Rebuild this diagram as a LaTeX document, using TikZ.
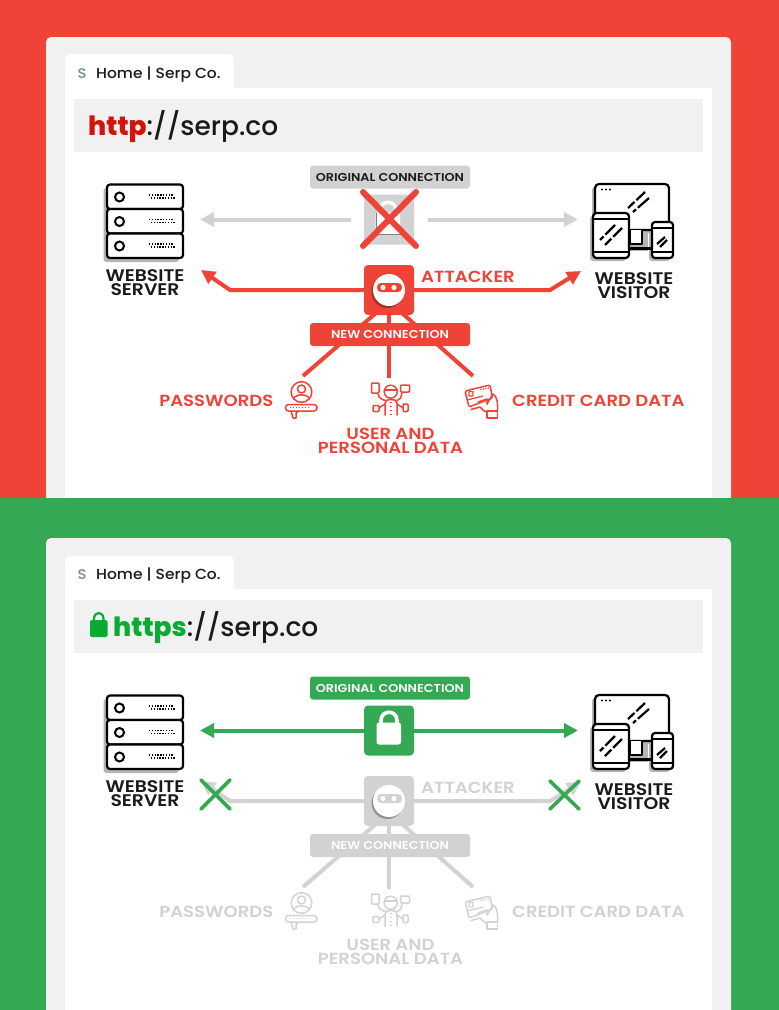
\documentclass[tikz,border=0pt]{standalone}
\usepackage{fontspec}
\setmainfont{Poppins}
\newfontfamily\labfont[FakeStretch=1.12]{Poppins SemiBold}
\newfontfamily\bodyfont[FakeStretch=1.06]{Poppins Medium}
\newfontfamily\urlfont{Poppins Medium}
\usetikzlibrary{arrows.meta}
\pgfdeclarelayer{base}
\pgfdeclarelayer{links}
\pgfsetlayers{base,links,main}
\definecolor{redbg}{HTML}{EF4337}
\definecolor{greenbg}{HTML}{35A853}
\definecolor{panelgrey}{HTML}{F1F1F1}
\definecolor{softgrey}{HTML}{D2D2D2}
\definecolor{ink}{HTML}{1A1A1A}
\definecolor{httpred}{HTML}{D2140A}
\definecolor{httpsgreen}{HTML}{09AB33}
\definecolor{shadowgrey}{HTML}{B5B5B5}
\tikzset{
  x=1pt,y=-1pt,
  lab/.style={font=\labfont\fontsize{16.8}{14}\selectfont,align=center,inner sep=0pt,text=ink},
  biglab/.style={font=\labfont\fontsize{16.1}{14}\selectfont,align=center,inner sep=0pt},
  banner/.style={minimum width=160pt,minimum height=23pt,inner sep=0pt,rounded corners=3pt,font=\labfont\fontsize{11.4}{12}\selectfont},
  sq/.style={minimum width=50pt,minimum height=50pt,inner sep=0pt,rounded corners=4pt},
  conn/.style={line width=4pt},
  tipped/.style={conn,-{Triangle[length=14pt,width=14pt]}},
  ic/.style={line width=1.5pt,line cap=round,line join=round},
  black icon/.style={line width=2.2pt,draw=black,line join=round},
}
\newcommand\chrome[1]{%
  \begin{pgfonlayer}{base}
  \fill[panelgrey,rounded corners=5pt] (46,37) rectangle (731,520);
  \fill[white,rounded corners=5pt] (65,54) rectangle (234,100);
  \fill[white] (65,88) rectangle (712,520);
  \end{pgfonlayer}
  \fill[panelgrey] (74,99) rectangle (703,152);
  \node[inner sep=0pt,text=gray!85!green,font=\bodyfont\fontsize{14}{14}\selectfont] (#1-fav) at (82,74) {S};
  \node[anchor=west,inner sep=0pt,text=ink,font=\bodyfont\fontsize{14.6}{14}\selectfont] (#1-tab) at (96,74.5) {Home | Serp Co.};
}
\newcommand\servericon{%
  \fill[shadowgrey,rounded corners=3pt] (103.5,188) rectangle (179,262);
  \foreach \yy in {184.5,209,233.5}{
    \draw[black icon,fill=white,rounded corners=3pt] (107,\yy) rectangle (183,\yy+24.5);
    \draw[line width=2pt,draw=black,fill=white] (119.5,\yy+12.5) circle (4.5);
    \draw[line width=1.4pt,dash pattern=on 1.4pt off 1.4pt] (149,\yy+10.5) -- (174,\yy+10.5);
    \draw[line width=1.4pt,dash pattern=on 1.4pt off 1.4pt] (151,\yy+13.5) -- (176,\yy+13.5);
  }
}
\newcommand\visitoricon{%
  \fill[shadowgrey,rounded corners=3pt] (592,187) rectangle (666,233);
  \fill[shadowgrey,rounded corners=3pt] (590,216) rectangle (626,261);
  \fill[shadowgrey,rounded corners=3pt] (649,225) rectangle (670,261);
  \fill[shadowgrey] (628,233) rectangle (648,251);
  \draw[black icon,fill=white,rounded corners=4pt] (595,184) rectangle (669,230);
  \draw[black icon,fill=white] (630,230) -- (630,244) -- (642,244) -- (642,230);
  \draw[black icon] (629,248.5) -- (652,248.5);
  \foreach \xx in {602,606,610}{\fill (\xx,189.5) circle (1.1);}
  \draw[line width=2.2pt,dash pattern=on 9pt off 2.5pt on 12pt off 0pt] (628,208) -- (645,192);
  \draw[line width=2.2pt,dash pattern=on 4pt off 2.5pt on 14pt off 0pt] (633,212) -- (649,198);
  \draw[black icon,fill=white,rounded corners=3.5pt] (593,213) rectangle (629,258);
  \draw[black icon] (593,219) -- (629,219) (593,252) -- (629,252);
  \draw[line width=2.2pt,dash pattern=on 5pt off 2.5pt on 14pt off 0pt] (600,240) -- (615,225);
  \draw[line width=2.2pt,dash pattern=on 9pt off 2.5pt on 14pt off 0pt] (605,245) -- (622,228);
  \draw[black icon,fill=white,rounded corners=3pt] (652,222) rectangle (673,258);
  \draw[black icon] (652,228) -- (673,228) (652,252) -- (673,252);
  \draw[line width=2.2pt] (657,244) -- (665,237) (660,247) -- (667,240);
}
\newcommand\padlock[2]{%
  \begin{scope}[shift={(#1)}]
    \draw[line width=3.6pt,draw=#2] (-8,-5) -- (-8,-10) .. controls (-8,-21) and (8,-21) .. (8,-10) -- (8,-5);
    \fill[#2,rounded corners=2.5pt] (-12.5,-8) rectangle (12,14);
  \end{scope}
}
\newcommand\lowerblock[1]{%
  \node[sq,fill=acc] (#1-att) at (389,290) {};
  \fill[acc!70!black] (387.5,292) circle (16);
  \fill[white] (389,290) circle (16);
  \fill[acc,rounded corners=4pt] (377,283) rectangle (402,292);
  \fill[white] (383,287.5) circle (2.6) (394,287.5) circle (2.6);
  \node[banner,fill=acc,text=white] (#1-new) at (390,334.5) {NEW CONNECTION};
  \coordinate (#1-dl) at (376,313);
  \coordinate (#1-dr) at (402,313);
  \coordinate (#1-pw) at (303,376);
  \coordinate (#1-ud) at (389,378);
  \coordinate (#1-cc) at (473,376);
  \coordinate (#1-lk) at (230,290);
  \coordinate (#1-lt) at (201,270);
  \coordinate (#1-rk) at (550,290);
  \coordinate (#1-rt) at (581,271);
  \begin{pgfonlayer}{links}
    \draw[conn,acc] (#1-dl) -- (#1-pw);
    \draw[conn,acc] (#1-att.south) -- (#1-ud);
    \draw[conn,acc] (#1-dr) -- (#1-cc);
    \draw[tipped,acc] (#1-att.west) -- (#1-lk) -- (#1-lt);
    \draw[tipped,acc] (#1-att.east) -- (#1-rk) -- (#1-rt);
  \end{pgfonlayer}
  \node[biglab,text=acc,anchor=west] (#1-attl) at (421,276.5) {ATTACKER};
  \node[biglab,text=acc,anchor=east] (#1-pwl) at (273.5,400.5) {PASSWORDS};
  \node[biglab,text=acc,anchor=west] (#1-ccl) at (512,400.5) {CREDIT CARD DATA};
  \node[biglab,text=acc] (#1-udl) at (390.5,440.5) {USER AND\\PERSONAL DATA};
  % password icon
  \draw[ic,acc] (301.5,392) circle (10.3);
  \draw[ic,acc] (301.5,389) circle (4);
  \draw[ic,acc] (293.5,399) .. controls (295,393.5) and (308,393.5) .. (309.5,399);
  \draw[ic,acc,rounded corners=3pt] (285.5,404.5) rectangle (317,411);
  \draw[line width=1.4pt,acc,dash pattern=on 1.4pt off 1.6pt] (290,407.7) -- (309,407.7);
  \draw[ic,acc] (291,411) -- (293,418) -- (296,418) -- (296,413) -- (299,411);
  % person icon
  \draw[ic,acc,fill=white] (390.7,391.7) circle (6.5);
  \draw[ic,acc] (384.5,390) -- (397,390);
  \draw[ic,acc] (385,415) -- (385,403) .. controls (385,400) and (388,399.5) .. (391,399.5) .. controls (394,399.5) and (397,400) .. (397,403) -- (397,415);
  \draw[ic,acc,rounded corners=1pt] (371.5,383) rectangle (379,393);
  \draw[ic,acc,rounded corners=1pt] (400.5,385) rectangle (409.5,392);
  \draw[ic,acc,rounded corners=1pt] (373,405.5) rectangle (379,411.5);
  \draw[ic,acc,rounded corners=1pt] (403,404) rectangle (408,411.5);
  \draw[ic,acc] (378,394) .. controls (379,398) and (382,400) .. (385,400.5) (402,393) .. controls (401,398) and (400,400) .. (397,400.5) (379,408) -- (385,404) (403,408) -- (397,404);
  \draw[line width=1.4pt,acc,dash pattern=on 1.4pt off 2.6pt] (391,402) -- (391,415);
  % card icon
  \draw[ic,acc,fill=white,rounded corners=1.5pt] (465,391) -- (490,385) -- (492.5,398) -- (469,407) -- cycle;
  \draw[line width=1.2pt,acc] (467,400) -- (483,396);
  \draw[line width=1.3pt,acc,rounded corners=.5pt] (469,391.5) rectangle (473,396);
  \draw[line width=1.3pt,acc,dash pattern=on 1.3pt off 1.3pt] (480,389.5) -- (489,388);
  \draw[ic,acc] (471,409.5) -- (480,407) .. controls (482,409.5) and (485,412) .. (487,412) (487,404) -- (493,394) .. controls (496,396) and (497.5,400) .. (497.5,405) -- (497.5,411);
  \draw[ic,acc] (487,411) rectangle (497.5,418);
  \draw[ic,acc] (478,402) -- (487,399) -- (487,404);
}
\begin{document}
\begin{tikzpicture}
\useasboundingbox (0,0) rectangle (779,1010);
\begin{pgfonlayer}{base}
\fill[redbg] (0,0) rectangle (779,498);
\end{pgfonlayer}
% ---------- top panel
\begin{scope}
  \chrome{a}
  \node[anchor=base west,inner sep=0pt,font=\urlfont\fontsize{26.5}{26}\selectfont,text=ink] (a-url) at (88,135) {\textcolor{httpred}{\bfseries http}://serp.co};
  \servericon
  \node[lab] (a-srv) at (145,283) {WEBSITE\\SERVER};
  \visitoricon
  \node[lab] (a-vis) at (634,285.5) {WEBSITE\\VISITOR};
  \node[banner,fill=softgrey,text=ink] (a-orig) at (390,177) {ORIGINAL CONNECTION};
  \node[sq,fill=softgrey] (a-lock) at (389,219.5) {};
  \padlock{388,220.5}{white}
  \draw[line width=1pt,draw=gray] (376,213) -- (376,234) -- (401,234);
  \coordinate (a-gl0) at (351,219.5);
  \coordinate (a-gl1) at (200,219.5);
  \coordinate (a-gr0) at (428,219.5);
  \coordinate (a-gr1) at (578,219.5);
  \draw[tipped,softgrey] (a-gl0) -- (a-gl1);
  \draw[tipped,softgrey] (a-gr0) -- (a-gr1);
  \coordinate (a-x1) at (363,192);
  \coordinate (a-x2) at (416,246);
  \coordinate (a-x3) at (416,192);
  \coordinate (a-x4) at (363,246);
  \draw[line width=6pt,redbg,line cap=round] (a-x1) -- (a-x2) (a-x3) -- (a-x4);
  \colorlet{acc}{redbg}
  \lowerblock{a}
\end{scope}
% ---------- bottom panel
\begin{pgfonlayer}{base}
\fill[greenbg] (0,498) rectangle (779,1010);
\end{pgfonlayer}
\begin{scope}[shift={(0,501)}]
  \begin{pgfonlayer}{base}
  \fill[panelgrey,rounded corners=5pt] (46,37) rectangle (731,520);
  \fill[white,rounded corners=5pt] (65,55) rectangle (234,100);
  \fill[white] (65,88) rectangle (712,520);
  \end{pgfonlayer}
  \fill[panelgrey] (74,99) rectangle (703,152);
  \node[inner sep=0pt,text=gray!85!green,font=\bodyfont\fontsize{14}{14}\selectfont] (b-fav) at (82,74) {S};
  \node[anchor=west,inner sep=0pt,text=ink,font=\bodyfont\fontsize{14.6}{14}\selectfont] (b-tab) at (96,74.5) {Home | Serp Co.};
  \draw[line width=2.2pt,httpsgreen] (94,120) -- (94,118) .. controls (94,110) and (103.5,110) .. (103.5,118) -- (103.5,120);
  \fill[httpsgreen,rounded corners=1.5pt] (90,119) rectangle (107.5,136);
  \node[anchor=base west,inner sep=0pt,font=\urlfont\fontsize{26.5}{26}\selectfont,text=ink] (b-url) at (113,135) {\textcolor{httpsgreen}{\bfseries https}://serp.co};
\end{scope}
\begin{scope}[shift={(0,511)}]
  \servericon
  \node[lab] (b-srv) at (145,283) {WEBSITE\\SERVER};
  \visitoricon
  \node[lab] (b-vis) at (634,285.5) {WEBSITE\\VISITOR};
  \node[banner,fill=greenbg,text=white] (b-orig) at (390,177) {ORIGINAL CONNECTION};
  \node[sq,fill=greenbg] (b-lock) at (389,219.5) {};
  \padlock{389,219.5}{white}
  \coordinate (b-gl1) at (200,219.5);
  \coordinate (b-gr1) at (578,219.5);
  \draw[tipped,greenbg] (b-lock.west) -- (b-gl1);
  \draw[tipped,greenbg] (b-lock.east) -- (b-gr1);
  \colorlet{acc}{softgrey}
  \lowerblock{b}
  \coordinate (b-xa) at (201,269);
  \coordinate (b-xb) at (230,298);
  \coordinate (b-xc) at (230,269);
  \coordinate (b-xd) at (201,298);
  \coordinate (b-xe) at (550,270);
  \coordinate (b-xf) at (579,298);
  \coordinate (b-xg) at (579,270);
  \coordinate (b-xh) at (550,298);
  \draw[line width=3.6pt,greenbg,line cap=round] (b-xa) -- (b-xb) (b-xc) -- (b-xd) (b-xe) -- (b-xf) (b-xg) -- (b-xh);
\end{scope}
\end{tikzpicture}
\end{document}
